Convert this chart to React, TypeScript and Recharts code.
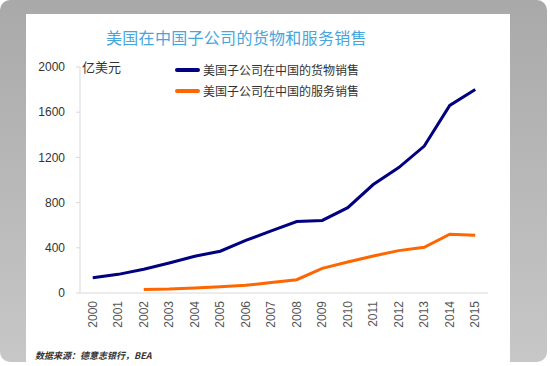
import React from 'react'
import { LineChart, Line, XAxis, YAxis } from 'recharts'

// Years on the x axis, values in 亿美元
const YEARS = ['2000', '2001', '2002', '2003', '2004', '2005', '2006', '2007',
  '2008', '2009', '2010', '2011', '2012', '2013', '2014', '2015']
const GOODS = [135, 165, 210, 265, 325, 370, 465, 550, 632, 642, 755, 960, 1110, 1300, 1660, 1800]
const SERVICES = [null, null, 30, 35, 45, 55, 68, 92, 118, 218, 275, 328, 375, 405, 520, 512]
const Y_TICKS = [0, 400, 800, 1200, 1600, 2000]

const GOODS_NAME = '美国子公司在中国的货物销售'
const SERVICES_NAME = '美国子公司在中国的服务销售'

const FONT = '"Liberation Sans", Arial, "Noto Sans CJK SC", sans-serif'
const CJK = '"Noto Sans CJK SC", "Liberation Sans", sans-serif'

const data = YEARS.map((y, i) => ({ year: y, goods: GOODS[i], services: SERVICES[i] }))

function YearTick({ x, y, payload }: any) {
  return (
    <g transform={`translate(${x},${y}) rotate(-90)`}>
      <text x={0} y={0} dy="0.35em" textAnchor="end" fill="#555" fontSize={12} fontFamily={FONT}>
        {payload.value}
      </text>
    </g>
  )
}

function LegendBox() {
  const items = [
    { name: GOODS_NAME, color: '#000080' },
    { name: SERVICES_NAME, color: '#ff6600' },
  ]
  return (
    <div style={{ position: 'absolute', left: 175, top: 59, fontFamily: CJK, fontSize: 12, color: '#333' }}>
      {items.map(it => (
        <div key={it.name} style={{ display: 'flex', alignItems: 'center', height: 21, whiteSpace: 'nowrap' }}>
          <span style={{ display: 'inline-block', width: 25, height: 4, borderRadius: 2, background: it.color, marginRight: 3 }} />
          <span>{it.name}</span>
        </div>
      ))}
    </div>
  )
}

export default function App() {
  return (
    <div style={{ position: 'absolute', left: 0, top: 0, width: 550, height: 366, background: '#fff', overflow: 'hidden' }}>
      {/* gray frame */}
      <div style={{
        position: 'absolute', left: 0, top: 0, width: 547, height: 362, borderRadius: 10,
        background: 'linear-gradient(to bottom, #a9a9a9, #c7c7c7)'
      }} />
      {/* white panel */}
      <div style={{ position: 'absolute', left: 26, top: 14, width: 484, height: 348, background: '#fff' }} />

      <div style={{
        position: 'absolute', left: 106, top: 25, fontFamily: CJK, fontSize: 16,
        letterSpacing: 0.3, color: '#45a6de', whiteSpace: 'nowrap'
      }}>
        美国在中国子公司的货物和服务销售
      </div>
      <div style={{ position: 'absolute', left: 82, top: 57, fontFamily: CJK, fontSize: 13, color: '#333' }}>
        亿美元
      </div>
      <div style={{
        position: 'absolute', left: 35, top: 349, fontFamily: CJK, fontSize: 9,
        fontStyle: 'italic', fontWeight: 'bold', color: '#333', whiteSpace: 'nowrap'
      }}>
        数据来源：德意志银行，BEA
      </div>

      <div style={{ position: 'absolute', left: 0, top: 0 }}>
        <LineChart width={550} height={366} data={data} margin={{ top: 67, right: 62, bottom: 33, left: 0 }}>
          <XAxis
            dataKey="year"
            height={40}
            padding={{ left: 12.75, right: 12.75 }}
            stroke="#d9d9d9"
            tickLine={false}
            interval={0}
            tick={<YearTick />}
          />
          <YAxis
            width={80}
            domain={[0, 2000]}
            ticks={Y_TICKS}
            stroke="#d9d9d9"
            tickSize={4}
            tickMargin={11}
            tick={{ fill: '#333', fontSize: 12, fontFamily: FONT }}
          />
          <Line
            type="linear"
            dataKey="goods"
            name={GOODS_NAME}
            stroke="#000080"
            strokeWidth={3}
            dot={false}
            isAnimationActive={false}
          />
          <Line
            type="linear"
            dataKey="services"
            name={SERVICES_NAME}
            stroke="#ff6600"
            strokeWidth={3}
            dot={false}
            isAnimationActive={false}
          />
        </LineChart>
      </div>
      <LegendBox />
    </div>
  )
}
